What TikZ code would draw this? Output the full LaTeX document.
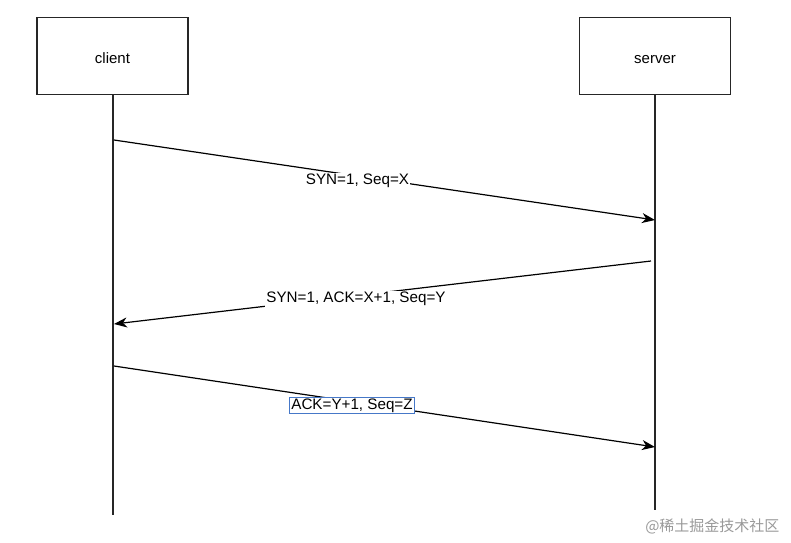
\documentclass[tikz,border=0pt]{standalone}
\usepackage{fontspec}
\setmainfont{Liberation Sans}
\newfontfamily\cjkfont{Noto Sans CJK SC}
\usetikzlibrary{arrows.meta}
\begin{document}
\begin{tikzpicture}[x=1pt,y=-1pt,
  actor/.style={draw=black!85,line width=1.2pt,minimum width=151pt,minimum height=77pt,inner sep=0pt,text height=14pt,text depth=0pt,font=\fontsize{15pt}{18pt}\selectfont},
  life/.style={draw=black!85,line width=1.3pt},
  msg/.style={draw=black,line width=1.2pt,-{Stealth[length=13pt,width=10pt,inset=4pt]}},
  lbl/.style={fill=white,inner sep=1pt,font=\fontsize{15.2pt}{18pt}\selectfont},
  sel/.style={lbl,draw={rgb,255:red,70;green,120;blue,200},line width=0.8pt,inner sep=1.5pt}]
\useasboundingbox (0,0) rectangle (791,542);
\node[actor] (client) at (112.5,56) {client};
\node[actor] (server) at (655,56) {server};
\coordinate (cend) at (113,515);
\coordinate (send) at (655,510);
\draw[life] (client.south -| cend) -- (cend);
\draw[life] (server.south) -- (send);
\coordinate (a1) at (114,140);
\coordinate (b1) at (655,220);
\coordinate (a2) at (651,261);
\coordinate (b2) at (114,324);
\coordinate (a3) at (114,366);
\coordinate (b3) at (655,447);
\draw[msg] (a1) -- (b1);
\draw[msg] (a2) -- (b2);
\draw[msg] (a3) -- (b3);
\node[lbl] (l1) at (357.5,181) {SYN=1, Seq=X};
\node[lbl] (l2) at (356,299) {SYN=1, ACK=X+1, Seq=Y};
\node[sel] (l3) at (352,405.5) {ACK=Y+1, Seq=Z};
\node[text=black!40,font=\cjkfont\fontsize{15pt}{18pt}\selectfont,anchor=east] (wm) at (783,526) {@稀土掘金技术社区};
\end{tikzpicture}
\end{document}
